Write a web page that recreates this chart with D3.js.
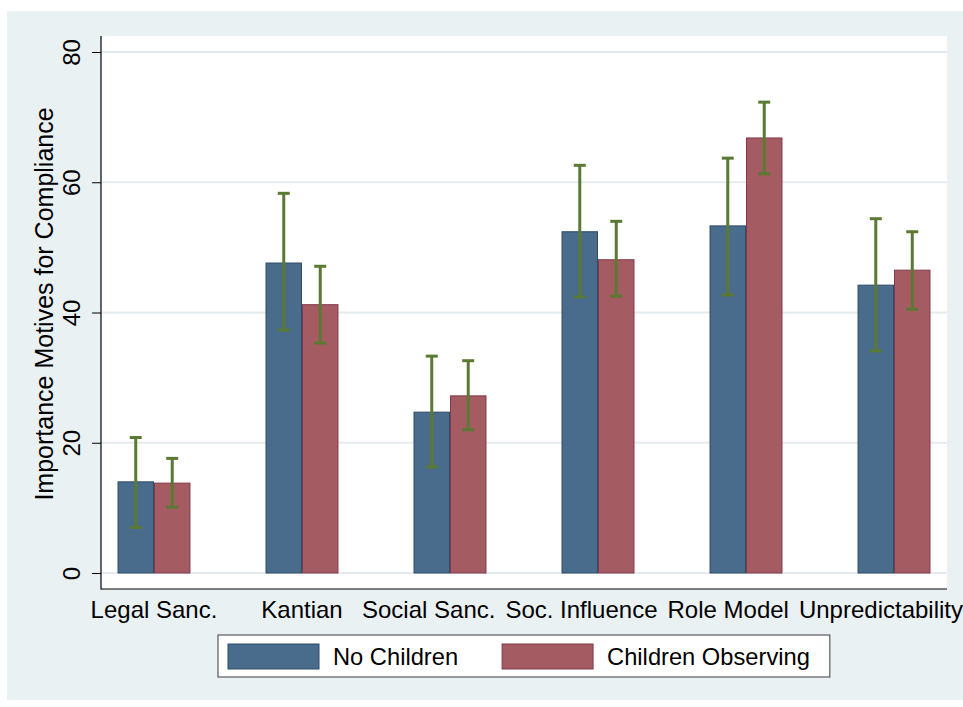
<!DOCTYPE html>
<html>
<head>
<meta charset="utf-8">
<script src="https://cdn.jsdelivr.net/npm/d3@7"></script>
<style>
  html, body { margin: 0; padding: 0; background: #ffffff; }
  svg { display: block; }
  text { font-family: "Liberation Sans", Arial, Helvetica, sans-serif; fill: #000; }
</style>
</head>
<body>
<svg id="chart" width="963" height="707"></svg>
<script>
// ---- data ----
const categories = ["Legal Sanc.", "Kantian", "Social Sanc.", "Soc. Influence", "Role Model", "Unpredictability"];
const seriesNames = ["No Children", "Children Observing"];
const noChildren      = [14.0, 47.6, 24.7, 52.4, 53.3, 44.2];
const noChildrenLow   = [7.0, 37.3, 16.3, 42.4, 42.7, 34.1];
const noChildrenHigh  = [20.8, 58.3, 33.3, 62.6, 63.7, 54.4];
const childrenObs     = [13.8, 41.2, 27.2, 48.1, 66.8, 46.5];
const childrenObsLow  = [10.1, 35.3, 22.0, 42.5, 61.3, 40.5];
const childrenObsHigh = [17.6, 47.1, 32.6, 54.0, 72.3, 52.4];
const yTicks = [0, 20, 40, 60, 80];
const yTitle = "Importance Motives for Compliance";

// ---- layout ----
const W = 963, H = 707;
const plot = { left: 101, right: 947, top: 36, bottom: 589 };
const colors = { fill: ["#496b8c", "#a55b62"], stroke: ["#2e4c6b", "#84394a"] };
const errColor = "#5a7a34";

const svg = d3.select("#chart");

// background
svg.append("rect").attr("x", 7).attr("y", 11).attr("width", W - 7).attr("height", 689)
  .attr("fill", "#eaf1f3");
svg.append("rect").attr("x", plot.left).attr("y", plot.top)
  .attr("width", plot.right - plot.left).attr("height", plot.bottom - plot.top)
  .attr("fill", "#ffffff");

const x0 = d3.scaleBand().domain(categories).range([plot.left, plot.right])
  .paddingInner(0.507).paddingOuter(0.1115);
const x1 = d3.scaleBand().domain(seriesNames).range([0, x0.bandwidth()]).padding(0);
const y = d3.scaleLinear().domain([0, 80]).range([573, 52]);

// gridlines
svg.append("g").selectAll("line").data(yTicks).join("line")
  .attr("x1", plot.left).attr("x2", plot.right)
  .attr("y1", d => y(d)).attr("y2", d => y(d))
  .attr("stroke", "#e4ebee").attr("stroke-width", 2);

// y axis
const yAxis = svg.append("g").attr("transform", `translate(${plot.left},0)`)
  .call(d3.axisLeft(y).tickValues(yTicks).tickSize(9).tickPadding(0).tickFormat(d3.format("d")));
yAxis.select(".domain").remove();
yAxis.selectAll(".tick line").attr("stroke", "#000").attr("stroke-width", 1);
yAxis.selectAll(".tick text")
  .attr("transform", "rotate(-90)")
  .attr("x", 0).attr("y", -21).attr("dy", 0)
  .attr("text-anchor", "middle")
  .style("font-size", "24px").style("font-family", '"Liberation Sans", Arial, sans-serif').attr("fill", "#000");

// axis lines
svg.append("line").attr("x1", plot.left).attr("x2", plot.left)
  .attr("y1", plot.top).attr("y2", plot.bottom + 0.5).attr("stroke", "#000").attr("stroke-width", 1.2);
svg.append("line").attr("x1", plot.left).attr("x2", plot.right)
  .attr("y1", plot.bottom).attr("y2", plot.bottom).attr("stroke", "#000").attr("stroke-width", 1.2);

// y title
svg.append("text").attr("transform", "translate(53,304) rotate(-90)")
  .attr("text-anchor", "middle").style("font-size", "25px").text(yTitle);

// bars
const rows = categories.map((c, i) => ({
  cat: c,
  vals: [
    { s: seriesNames[0], k: 0, v: noChildren[i], lo: noChildrenLow[i], hi: noChildrenHigh[i] },
    { s: seriesNames[1], k: 1, v: childrenObs[i], lo: childrenObsLow[i], hi: childrenObsHigh[i] }
  ]
}));

const groups = svg.append("g").selectAll("g").data(rows).join("g")
  .attr("transform", d => `translate(${x0(d.cat)},0)`);

groups.selectAll("rect").data(d => d.vals).join("rect")
  .attr("x", d => x1(d.s) + 0.5)
  .attr("y", d => y(d.v))
  .attr("width", x1.bandwidth() - 1)
  .attr("height", d => y(0) - y(d.v))
  .attr("fill", d => colors.fill[d.k])
  .attr("stroke", d => colors.stroke[d.k])
  .attr("stroke-width", 1);

// error bars
const capW = 12;
const eb = groups.selectAll("g.err").data(d => d.vals).join("g").attr("class", "err")
  .attr("transform", d => `translate(${x1(d.s) + x1.bandwidth() / 2},0)`);
eb.append("line").attr("x1", 0).attr("x2", 0)
  .attr("y1", d => y(d.lo)).attr("y2", d => y(d.hi))
  .attr("stroke", errColor).attr("stroke-width", 3);
eb.append("line").attr("x1", -capW / 2).attr("x2", capW / 2)
  .attr("y1", d => y(d.hi)).attr("y2", d => y(d.hi))
  .attr("stroke", errColor).attr("stroke-width", 3);
eb.append("line").attr("x1", -capW / 2).attr("x2", capW / 2)
  .attr("y1", d => y(d.lo)).attr("y2", d => y(d.lo))
  .attr("stroke", errColor).attr("stroke-width", 3);

// category labels (centered, then pushed left to avoid overlap / clipping)
const labels = svg.append("g").selectAll("text").data(categories).join("text")
  .attr("y", 618).attr("text-anchor", "middle").style("font-size", "24px")
  .text(d => d);
const widths = [];
labels.each(function () { widths.push(this.getComputedTextLength()); });
const centers = categories.map(c => x0(c) + x0.bandwidth() / 2);
const gap = 10;
let limit = W;
for (let i = categories.length - 1; i >= 0; i--) {
  const end = Math.min(centers[i] + widths[i] / 2, limit);
  centers[i] = end - widths[i] / 2;
  limit = centers[i] - widths[i] / 2 - gap;
}
labels.attr("x", (d, i) => centers[i]);

// legend
const legend = svg.append("g");
const legBox = legend.append("rect").attr("x", 218).attr("y", 635).attr("height", 42)
  .attr("fill", "#ffffff").attr("stroke", "#3a3a3a").attr("stroke-width", 1);
let lx = 228;
seriesNames.forEach((s, k) => {
  legend.append("rect").attr("x", lx).attr("y", 644).attr("width", 91).attr("height", 25)
    .attr("fill", colors.fill[k]).attr("stroke", colors.stroke[k]).attr("stroke-width", 1);
  const t = legend.append("text").attr("x", lx + 105).attr("y", 665)
    .style("font-size", "23.7px").text(s);
  const tw = t.node().getComputedTextLength();
  lx = lx + 105 + tw + (k === seriesNames.length - 1 ? 20 : 44);
});
legBox.attr("width", lx - 218);
</script>
</body>
</html>
